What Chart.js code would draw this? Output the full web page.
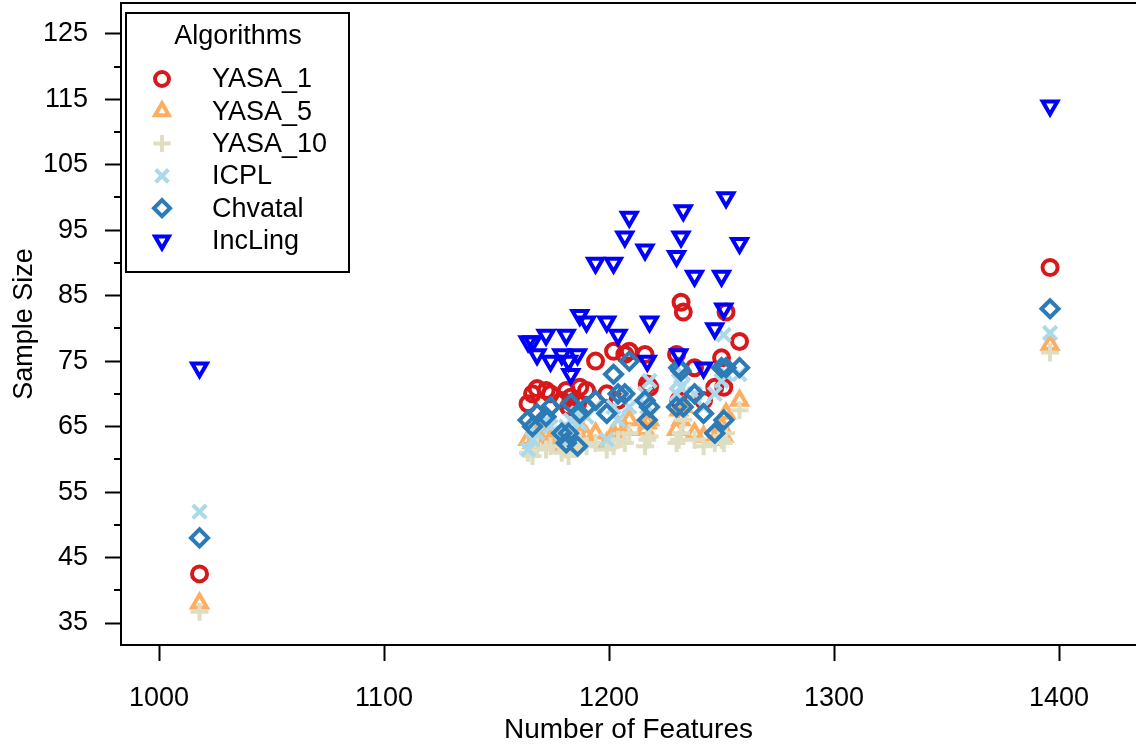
<!DOCTYPE html>
<html>
<head>
<meta charset="utf-8">
<script src="https://cdn.jsdelivr.net/npm/chart.js@4.4.0/dist/chart.umd.min.js"></script>
<style>
  body { margin: 0; background: #fff; }
  #wrap { width: 1136px; height: 745px; position: relative; }
</style>
</head>
<body>
<div id="wrap"><canvas id="scatterChart"></canvas></div>
<script>
// number of features per model, and sample sizes per algorithm
const features = [1018, 1164, 1166, 1168, 1172, 1174, 1179, 1181, 1182, 1183, 1186, 1187, 1190, 1194, 1199, 1202, 1204,
  1207, 1209, 1216, 1217, 1218, 1230, 1231, 1232, 1233, 1238, 1242, 1247, 1250, 1251, 1252, 1258, 1396];
const yasa1 = [42.5, 68.5, 70, 70.8, 70.5, 70, 69, 70.5, 68, 69.5, 68.5, 71, 70.5, 75, 70, 76.5, 69,
  76, 76.5, 76, 71.5, 71, 76, 69, 84, 82.5, 74, 69, 71, 75.5, 71, 82.5, 78, 89.3];
const yasa5 = [38, 63, 62.5, 64, 63.5, 63, 62, 63.5, 62.5, 63, 64, 65, 63.5, 64, 62.5, 64, 65,
  64.5, 66, 64.5, 65.5, 66, 64.5, 67.5, 66, 68, 64, 63.5, 63, 65, 63.5, 67, 69, 77.5];
const yasa10 = [36.7, 61, 60.5, 62, 61.5, 62, 61, 61.5, 60.5, 62, 62, 63, 62, 62.5, 61.5, 62, 63,
  62.5, 64, 62, 63, 63.5, 62.5, 63, 64, 66, 63, 62, 62.5, 63, 62.5, 64, 67.5, 76.3];
const icpl = [52, 61.5, 63, 64, 66, 65, 64, 65, 63, 66, 67, 65.5, 66.5, 68, 63, 68, 66,
  70, 68, 70, 68, 72, 70, 72, 71, 73, 70, 68, 70, 72, 79, 73, 73, 79.3];
const chvatal = [48, 66, 65, 67, 66.5, 68, 64, 62.5, 64, 68.5, 62, 67, 68, 69, 67, 73, 70,
  70, 75, 69, 66, 68, 68, 74, 73.5, 68, 70, 67, 64, 74, 66, 74, 74, 83];
const incling = [74, 78, 78, 76, 79, 75, 76, 79, 75, 73, 76, 82, 81, 90, 81, 90, 79,
  94, 97, 92, 75, 81, 91, 76, 94, 98, 88, 74, 80, 88, 83, 100, 93, 114];

const seriesNames = ['YASA_1', 'YASA_5', 'YASA_10', 'ICPL', 'Chvatal', 'IncLing'];
const seriesValues = [yasa1, yasa5, yasa10, icpl, chvatal, incling];
const seriesColors = ['#d7191c', '#fdae61', '#dfdec2', '#abd9e9', '#2c7bb6', '#0000ff'];
const seriesStyles = ['circle', 'triangle', 'cross', 'crossRot', 'rectRot', 'triangle'];
const seriesRadius = [7.5, 8.5, 9, 9.5, 8.5, 8.5];
const seriesRotation = [0, 0, 0, 0, 0, 180];

const xTicks = [1000, 1100, 1200, 1300, 1400];
const yTicks = [35, 45, 55, 65, 75, 85, 95, 105, 115, 125];
const yMinorTicks = [40, 50, 60, 70, 80, 90, 100, 110, 120];

const FONT = 'Liberation Sans, Arial, sans-serif';

const datasets = seriesNames.map((name, i) => ({
  label: name,
  data: features.map((f, j) => ({ x: f, y: seriesValues[i][j] })),
  pointStyle: seriesStyles[i],
  pointRadius: seriesRadius[i],
  pointRotation: seriesRotation[i],
  pointBorderWidth: 4,
  borderColor: seriesColors[i],
  backgroundColor: 'rgba(0,0,0,0)',
  order: 6 - i
}));

// extra ticks, top frame line and the boxed legend
const decorations = {
  id: 'decorations',
  afterDraw(chart) {
    const ctx = chart.ctx;
    const area = chart.chartArea;
    const y = chart.scales.y;
    ctx.save();
    ctx.strokeStyle = '#000';
    ctx.lineWidth = 2;
    ctx.beginPath();
    ctx.moveTo(area.left - 1, area.top);
    ctx.lineTo(area.right, area.top);
    yMinorTicks.forEach(v => {
      const py = Math.round(y.getPixelForValue(v));
      ctx.moveTo(area.left - 7, py);
      ctx.lineTo(area.left, py);
    });
    ctx.stroke();

    // legend
    ctx.fillStyle = '#fff';
    ctx.fillRect(126, 13, 223, 259);
    ctx.lineWidth = 2;
    ctx.strokeRect(126, 13, 223, 259);
    ctx.fillStyle = '#000';
    ctx.font = '27px ' + FONT;
    ctx.textAlign = 'center';
    ctx.textBaseline = 'middle';
    ctx.fillText('Algorithms', 238, 37);
    ctx.textAlign = 'left';
    seriesNames.forEach((name, i) => {
      const ly = 79 + i * 32.3;
      ctx.strokeStyle = seriesColors[i];
      ctx.fillStyle = 'rgba(0,0,0,0)';
      ctx.lineWidth = 4;
      Chart.helpers.drawPoint(ctx, {
        pointStyle: seriesStyles[i],
        radius: seriesRadius[i] - 0.5,
        rotation: seriesRotation[i],
        borderWidth: 4
      }, 162, ly);
      ctx.fillStyle = '#000';
      ctx.fillText(name, 212, ly + 1);
    });
    ctx.restore();
  }
};

new Chart(document.getElementById('scatterChart'), {
  type: 'scatter',
  data: { datasets: datasets },
  options: {
    responsive: true,
    maintainAspectRatio: false,
    animation: false,
    layout: { autoPadding: false, padding: { top: 3, left: 0, right: 0, bottom: 0 } },
    plugins: {
      legend: { display: false },
      tooltip: { enabled: false }
    },
    scales: {
      x: {
        type: 'linear',
        min: 983.1,
        max: 1434.2,
        afterBuildTicks: scale => { scale.ticks = xTicks.map(v => ({ value: v })); },
        afterFit: scale => {
          scale.height = 100;
          scale.paddingLeft = 0;
          scale.paddingRight = 0;
        },
        grid: { drawOnChartArea: false, drawTicks: true, tickLength: 16, tickWidth: 2, tickColor: '#000' },
        border: { display: true, color: '#000', width: 2 },
        ticks: { color: '#000', font: { family: FONT, size: 27 }, padding: 21, maxRotation: 0, callback: v => String(v) },
        title: {
          display: true,
          text: 'Number of Features',
          color: '#000',
          font: { family: FONT, size: 28, lineHeight: 1 },
          padding: { top: 0, bottom: 1 }
        }
      },
      y: {
        type: 'linear',
        min: 31.64,
        max: 129.7,
        afterBuildTicks: scale => { scale.ticks = yTicks.map(v => ({ value: v })); },
        afterFit: scale => {
          scale.width = 121;
          scale.paddingTop = 0;
          scale.paddingBottom = 0;
        },
        grid: { drawOnChartArea: false, drawTicks: true, tickLength: 16, tickWidth: 2, tickColor: '#000' },
        border: { display: true, color: '#000', width: 2 },
        ticks: { color: '#000', font: { family: FONT, size: 27 }, padding: 17, callback: v => String(v) },
        title: {
          display: true,
          text: 'Sample Size',
          color: '#000',
          font: { family: FONT, size: 27, lineHeight: 1 },
          padding: { top: 11, bottom: 0 }
        }
      }
    }
  },
  plugins: [decorations]
});
</script>
</body>
</html>
